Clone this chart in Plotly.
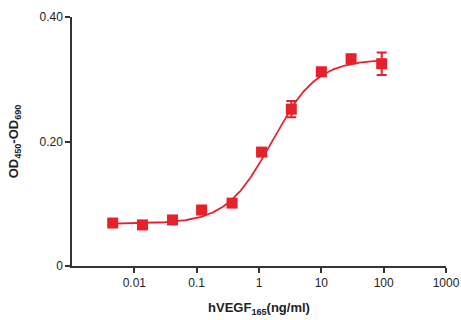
import numpy as np
import plotly.graph_objects as go

conc = [0.0045, 0.0135, 0.041, 0.12, 0.37, 1.1, 3.3, 10.0, 30.0, 93.0]
od = [0.069, 0.066, 0.074, 0.090, 0.101, 0.183, 0.252, 0.312, 0.333, 0.325]
err = [0.003, 0.003, 0.003, 0.004, 0.003, 0.003, 0.013, 0.004, 0.006, 0.018]

# 4-parameter logistic fit parameters
bottom, top, ec50, hill = 0.068, 0.332, 1.6, 1.2

xfit = np.logspace(np.log10(0.0045), np.log10(93), 300)
yfit = bottom + (top - bottom) / (1 + (ec50 / xfit) ** hill)

red = "#E8202A"
font = "Liberation Sans Narrow, Arial Narrow, Liberation Sans, Arial"

fig = go.Figure()
fig.add_trace(go.Scatter(x=xfit, y=yfit, mode="lines",
                         line=dict(color=red, width=1.8), hoverinfo="skip"))
fig.add_trace(go.Scatter(x=conc, y=od, mode="markers",
                         marker=dict(symbol="square", size=11, color=red),
                         error_y=dict(type="data", array=err, color=red,
                                      thickness=2, width=5)))

fig.update_layout(
    width=461, height=320,
    margin=dict(l=72, r=15, t=17, b=54),
    plot_bgcolor="white", paper_bgcolor="white",
    showlegend=False,
    font=dict(family=font, size=12, color="#222"),
)
fig.update_xaxes(type="log", range=[-3, 3], automargin=False,
                 tickvals=[0.01, 0.1, 1, 10, 100, 1000],
                 ticktext=["0.01", "0.1", "1", "10", "100", "1000"],
                 showline=True, linecolor="#333", linewidth=1.5,
                 ticks="outside", ticklen=5, tickcolor="#333", tickwidth=1.5,
                 showgrid=False, zeroline=False,
                 title=dict(text="<b>hVEGF<sub>165</sub>(ng/ml)</b>",
                            font=dict(size=13), standoff=14))
fig.update_yaxes(range=[0, 0.40], automargin=False,
                 tickvals=[0, 0.2, 0.4], ticktext=["0", "0.20", "0.40"],
                 showline=True, linecolor="#333", linewidth=1.5,
                 ticks="outside", ticklen=5, tickcolor="#333", tickwidth=1.5,
                 showgrid=False, zeroline=False,
                 title=dict(text="<b>OD<sub>450</sub>-OD<sub>690</sub></b>",
                            font=dict(size=13), standoff=18))

fig.write_html("out.html",
               config={"displayModeBar": False},
               post_script="document.body.style.margin='0';"
                           "document.body.style.overflow='hidden';")
